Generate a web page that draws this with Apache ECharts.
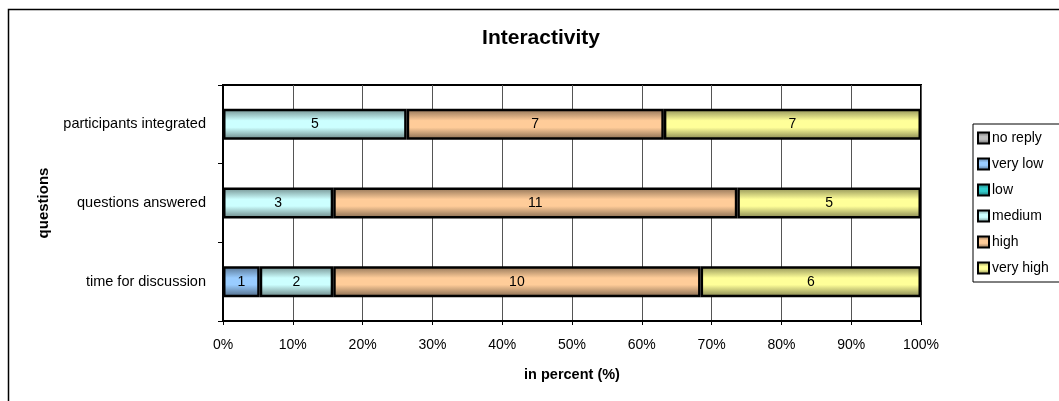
<!DOCTYPE html>
<html>
<head>
<meta charset="utf-8">
<script src="https://cdn.jsdelivr.net/npm/echarts@6/dist/echarts.min.js"></script>
<style>
  html, body { margin: 0; padding: 0; background: #fff; }
  #chart { width: 1059px; height: 401px; }
</style>
</head>
<body>
<div id="chart"></div>
<script>
// Questions, bottom to top as they appear on the category axis
const questions = ['time for discussion', 'questions answered', 'participants integrated'];

// Answer counts per rating level (one entry per question above)
const noReply  = [0, 0, 0];
const veryLow  = [1, 0, 0];
const low      = [0, 0, 0];
const medium   = [2, 3, 5];
const high     = [10, 11, 7];
const veryHigh = [6, 5, 7];

const percentTicks = [0, 10, 20, 30, 40, 50, 60, 70, 80, 90, 100];

const levels = [
  { name: 'no reply',  counts: noReply,  color: '#C0C0C0' },
  { name: 'very low',  counts: veryLow,  color: '#99CCFF' },
  { name: 'low',       counts: low,      color: '#33CCCC' },
  { name: 'medium',    counts: medium,   color: '#CCFFFF' },
  { name: 'high',      counts: high,     color: '#FFCC99' },
  { name: 'very high', counts: veryHigh, color: '#FFFF99' }
];

// Row totals used to turn counts into shares of 100%
const totals = questions.map((_, i) => levels.reduce((s, l) => s + l.counts[i], 0));

function shade(hex, f) {
  const n = parseInt(hex.slice(1), 16);
  const r = Math.round(((n >> 16) & 255) * f);
  const g = Math.round(((n >> 8) & 255) * f);
  const b = Math.round((n & 255) * f);
  return 'rgb(' + r + ',' + g + ',' + b + ')';
}

function barFill(hex) {
  return new echarts.graphic.LinearGradient(0, 0, 0, 1, [
    { offset: 0, color: shade(hex, 0.55) },
    { offset: 0.38, color: hex },
    { offset: 0.6, color: hex },
    { offset: 1, color: shade(hex, 0.5) }
  ]);
}

const font = 'Liberation Sans, Arial, sans-serif';

const series = levels.map(l => ({
  name: l.name,
  type: 'bar',
  stack: 'total',
  barWidth: 31,
  itemStyle: { color: barFill(l.color), borderColor: '#000', borderWidth: 2.5 },
  label: {
    show: true,
    position: 'inside',
    color: '#000',
    fontFamily: font,
    fontSize: 14,
    formatter: p => l.counts[p.dataIndex]
  },
  data: l.counts.map((c, i) => c === 0 ? null : c / totals[i] * 100)
}));

const chart = echarts.init(document.getElementById('chart'), null, { renderer: 'canvas' });
chart.setOption({
  animation: false,
  backgroundColor: '#fff',
  title: {
    text: 'Interactivity',
    left: 536,
    textAlign: 'center',
    top: 23,
    textStyle: { fontFamily: font, fontSize: 21, fontWeight: 'bold', color: '#000' }
  },
  legend: {
    orient: 'vertical',
    left: 973,
    top: 124,
    padding: [7, 60, 7, 4],
    itemGap: 12,
    itemWidth: 11,
    itemHeight: 11,
    icon: 'rect',
    borderColor: '#000',
    borderWidth: 1,
    data: levels.map(l => ({
      name: l.name,
      itemStyle: { color: barFill(l.color), borderColor: '#000', borderWidth: 2 }
    })),
    textStyle: { fontFamily: font, fontSize: 14, color: '#000', padding: [0, 0, 0, -2] }
  },
  grid: {
    left: 223, right: 138, top: 85, bottom: 80,
    show: true, borderColor: '#000', borderWidth: 2, backgroundColor: '#fff'
  },
  xAxis: {
    type: 'value',
    min: 0, max: 100, interval: 10,
    name: 'in percent (%)',
    nameLocation: 'middle',
    nameGap: 46,
    nameTextStyle: { fontFamily: font, fontSize: 14.5, fontWeight: 'bold', color: '#000' },
    axisLine: { show: true, lineStyle: { color: '#000', width: 2 } },
    axisTick: { show: true, length: 4, lineStyle: { color: '#000' } },
    axisLabel: {
      margin: 17,
      fontFamily: font, fontSize: 14, color: '#000',
      formatter: v => percentTicks.includes(v) ? v + '%' : ''
    },
    splitLine: { show: true, lineStyle: { color: '#555', width: 1 } }
  },
  yAxis: {
    type: 'category',
    data: questions,
    name: 'questions',
    nameLocation: 'middle',
    nameGap: 172,
    nameTextStyle: { fontFamily: font, fontSize: 15, fontWeight: 'bold', color: '#000' },
    axisLine: { show: true, lineStyle: { color: '#000', width: 2 } },
    axisTick: { show: true, length: 5, lineStyle: { color: '#000' } },
    axisLabel: { margin: 17, fontFamily: font, fontSize: 14.5, color: '#000' }
  },
  graphic: [{
    type: 'rect',
    shape: { x: 8.5, y: 9.5, width: 1200, height: 600 },
    style: { fill: null, stroke: '#000', lineWidth: 1.5 },
    silent: true,
    z: -1
  }],
  series: series
});
</script>
</body>
</html>
